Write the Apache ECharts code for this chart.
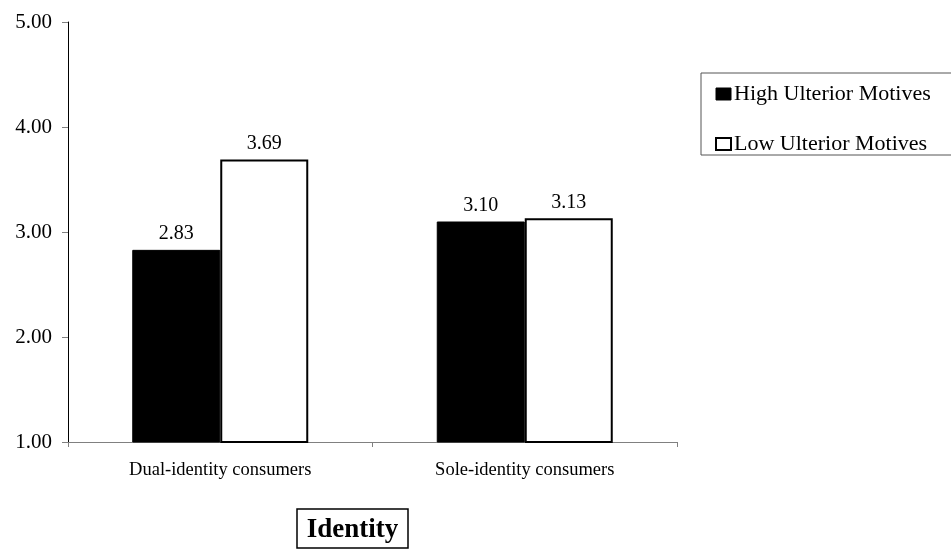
<!DOCTYPE html>
<html>
<head>
<meta charset="utf-8">
<script src="https://cdn.jsdelivr.net/npm/echarts@6/dist/echarts.min.js"></script>
<style>html,body{margin:0;padding:0;background:#fff;}#c{width:951px;height:550px;}</style>
</head>
<body>
<div id="c"></div>
<script>
const categories = ['Dual-identity consumers', 'Sole-identity consumers'];
const highUlterior = [2.83, 3.10];
const lowUlterior = [3.69, 3.13];
const seriesNames = ['High Ulterior Motives', 'Low Ulterior Motives'];
const yTicks = [1, 2, 3, 4, 5];
const axisTitle = 'Identity';

const font = '"Liberation Serif", "Times New Roman", serif';
const chart = echarts.init(document.getElementById('c'));
chart.setOption({
  animation: false,
  backgroundColor: '#fff',
  grid: { left: 68, right: 274, top: 22, bottom: 108 },
  legend: {
    orient: 'vertical',
    left: 701, top: 73,
    padding: [10, 60, 0, 14],
    itemWidth: 15, itemHeight: 12, itemGap: 28,
    borderColor: '#555', borderWidth: 1,
    textStyle: { fontFamily: font, fontSize: 22, lineHeight: 21, color: '#000', padding: [0,0,0,-2] },
    data: [
      { name: seriesNames[0], icon: 'rect', itemStyle: { color: '#000', borderColor: '#000', borderWidth: 1 } },
      { name: seriesNames[1], icon: 'rect', itemStyle: { color: '#fff', borderColor: '#000', borderWidth: 2 } }
    ]
  },
  xAxis: {
    type: 'category',
    data: categories,
    axisLine: { lineStyle: { color: '#808080', width: 1 } },
    axisTick: { show: true, length: 5, alignWithLabel: false, lineStyle: { color: '#808080' } },
    axisLabel: { fontFamily: font, fontSize: 18.5, color: '#000', margin: 19 }
  },
  yAxis: {
    type: 'value',
    min: yTicks[0], max: yTicks[yTicks.length - 1], interval: 1,
    axisLine: { show: true, lineStyle: { color: '#000', width: 1 } },
    axisTick: { show: true, length: 6, lineStyle: { color: '#808080' } },
    splitLine: { show: false },
    axisLabel: { fontFamily: font, fontSize: 21, color: '#000', margin: 16, formatter: v => v.toFixed(2) }
  },
  series: [
    {
      name: seriesNames[0], type: 'bar', data: highUlterior, barWidth: 88, barGap: '0%',
      itemStyle: { color: '#000', borderColor: '#000', borderWidth: 1 },
      label: { show: true, position: 'top', distance: 6, fontFamily: font, fontSize: 20, color: '#000', formatter: p => p.value.toFixed(2) }
    },
    {
      name: seriesNames[1], type: 'bar', data: lowUlterior, barWidth: 88, barGap: '0%',
      itemStyle: { color: '#fff', borderColor: '#000', borderWidth: 2 },
      label: { show: true, position: 'top', distance: 6, fontFamily: font, fontSize: 20, color: '#000', formatter: p => p.value.toFixed(2) }
    }
  ],
  graphic: [
    { type: 'rect', shape: { x: 297, y: 509, width: 111, height: 39 }, style: { fill: '#fff', stroke: '#000', lineWidth: 1.5 } },
    { type: 'text', x: 352.5, y: 530, style: { text: axisTitle, fontFamily: font, fontSize: 27, fontWeight: 'bold', fill: '#000', align: 'center', verticalAlign: 'middle' } }
  ]
});
</script>
</body>
</html>
